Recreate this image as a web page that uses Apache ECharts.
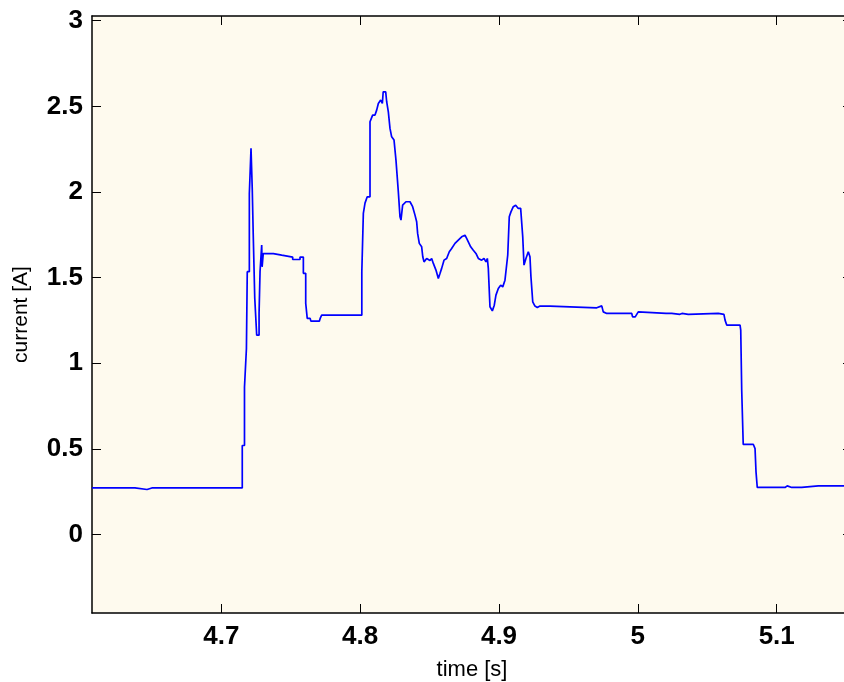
<!DOCTYPE html>
<html>
<head>
<meta charset="utf-8">
<title>current vs time</title>
<script src="https://cdn.jsdelivr.net/npm/echarts@6/dist/echarts.min.js"></script>
<style>
  html, body { margin: 0; padding: 0; background: #ffffff; }
  #chart { width: 844px; height: 682px; }
</style>
</head>
<body>
<div id="chart"></div>
<script>
// Sampled motor current trace: time in seconds, current in amperes.
const times = [
  // idle level
  4.6069,4.6103,4.6103,4.6110,4.6110,4.6153,4.6153,4.6160,4.6160,4.6378,4.6378,4.6465,4.6465,4.6500,4.6500,
  4.6506,4.6506,4.6557,4.6557,4.6563,4.6563,4.6630,4.6630,4.6636,4.6636,4.6760,4.6760,4.6766,4.6766,4.7151,
  // switch-on spike
  4.7151,4.7167,4.7167,4.7181,4.7181,4.7187,4.7187,4.7202,4.7202,4.7214,4.7214,4.7223,4.7223,4.7230,4.7230,
  4.7241,4.7241,4.7255,4.7255,4.7272,4.7272,4.7279,4.7279,4.7291,4.7291,4.7294,4.7294,4.7302,4.7302,
  // first plateau and settling
  4.7375,4.7375,4.7435,4.7435,4.7514,4.7514,4.7567,4.7567,4.7591,4.7591,4.7608,4.7608,4.7619,4.7619,4.7640,
  4.7645,4.7706,4.7712,4.7723,4.8012,4.8012,4.8023,4.8023,
  // load peak and oscillation
  4.8035,4.8051,4.8071,4.8071,4.8090,4.8107,4.8119,4.8131,4.8148,4.8160,
  4.8166,4.8184,4.8191,4.8203,4.8215,4.8227,4.8244,4.8258,4.8275,4.8287,
  4.8294,4.8306,4.8330,4.8359,4.8378,4.8395,4.8407,4.8414,4.8426,4.8443,
  4.8451,4.8460,4.8479,4.8503,4.8515,4.8527,4.8546,4.8563,4.8575,4.8587,
  4.8604,4.8623,4.8642,4.8659,4.8671,4.8683,4.8707,4.8731,4.8755,4.8767,
  4.8779,4.8796,4.8815,4.8834,4.8851,4.8875,4.8892,4.8906,4.8916,4.8923,
  4.8935,4.8952,4.8966,4.8978,4.8995,4.9012,4.9027,4.9043,4.9055,4.9063,
  4.9074,4.9086,4.9103,4.9120,4.9139,4.9156,4.9171,4.9180,4.9194,4.9211,
  4.9223,4.9230,4.9243,4.9259,4.9276,4.9295,4.9367,4.9380,
  // steady running, then switch-off
  4.9704,4.9715,4.9740,4.9751,4.9776,4.9956,4.9962,4.9981,5.0003,5.0015,
  5.0203,5.0207,5.0214,5.0218,5.0244,5.0248,5.0303,5.0307,5.0318,5.0322,
  5.0363,5.0368,5.0579,5.0587,5.0620,5.0628,5.0640,5.0736,5.0741,5.0748,
  5.0748,5.0759,5.0759,5.0832,5.0844,5.0851,5.0851,5.0860,5.0860,5.1060,
  5.1076,5.1108,5.1117,5.1180,5.1190,5.1300,5.1312,5.1384,5.1542
];

const current = [
  0.272,0.272,0.263,0.263,0.272,0.272,0.263,0.263,0.272,0.272,0.263,0.263,0.272,0.272,0.263,
  0.263,0.272,0.272,0.263,0.263,0.272,0.272,0.263,0.263,0.272,0.272,0.263,0.263,0.272,0.272,
  0.52,0.52,0.86,0.86,1.086,1.086,1.535,1.535,1.99,1.99,2.255,2.255,2.015,2.015,1.75,
  1.75,1.38,1.38,1.164,1.164,1.29,1.29,1.535,1.535,1.69,1.69,1.563,1.563,1.64,
  1.64,1.631,1.631,1.62,1.62,1.606,1.606,1.62,1.62,1.525,1.525,1.35,1.35,1.262,1.262,
  1.246,1.246,1.262,1.281,1.281,1.534,1.534,1.875,
  1.935,1.972,1.972,2.41,2.449,2.449,2.478,2.517,2.537,2.517,
  2.585,2.585,2.527,2.468,2.371,2.322,2.303,2.186,2.001,1.855,
  1.836,1.923,1.943,1.943,1.914,1.865,1.826,1.758,1.700,1.680,
  1.622,1.592,1.612,1.600,1.612,1.583,1.544,1.495,1.524,1.554,
  1.602,1.612,1.651,1.670,1.660,1.700,1.719,1.738,1.748,1.729,
  1.709,1.680,1.660,1.641,1.612,1.602,1.612,1.592,1.612,1.554,
  1.330,1.306,1.339,1.398,1.437,1.456,1.446,1.485,1.485,1.632,
  1.855,1.884,1.914,1.923,1.904,1.904,1.738,1.573,1.612,1.651,
  1.622,1.506,1.359,1.334,1.326,1.334,1.334,1.324,
  1.324,1.335,1.335,1.300,1.291,1.291,1.271,1.271,1.300,1.291,
  1.291,1.286,1.286,1.291,1.291,1.286,1.286,1.291,1.291,1.286,
  1.286,1.291,1.291,1.285,1.285,1.252,1.223,1.223,1.193,1.193,
  0.843,0.843,0.526,0.526,0.502,0.502,0.366,0.366,0.275,0.275,
  0.284,0.275,0.284,0.275,0.284,0.284,0.275,0.284,0.284
];

const xTicks = [4.7, 4.8, 4.9, 5, 5.1];
const yTicks = [0, 0.5, 1, 1.5, 2, 2.5, 3];
const xRange = [4.60688, 5.15423];
const yRange = [-0.458, 3.0275];

const trace = times.map((t, k) => [t, current[k]]);

const FONT = '"Liberation Sans", Arial, Helvetica, sans-serif';
const boxLine = { show: true, onZero: false, lineStyle: { color: '#000', width: 1.5 } };

function tickSpec(values) {
  return { show: true, inside: true, length: 9, customValues: values,
           lineStyle: { color: '#000', width: 1 } };
}

const chart = echarts.init(document.getElementById('chart'), null, { renderer: 'canvas' });

chart.setOption({
  animation: false,
  backgroundColor: '#ffffff',
  grid: {
    left: 92, top: 16, width: 760, height: 597,
    outerBoundsMode: 'none', containLabel: false,
    show: true, backgroundColor: '#fefaee', borderWidth: 0
  },
  xAxis: [
    {
      type: 'value', position: 'bottom', min: xRange[0], max: xRange[1],
      axisLine: boxLine, axisTick: tickSpec(xTicks), splitLine: { show: false },
      axisLabel: { customValues: xTicks, margin: 11, color: '#000',
                   fontFamily: FONT, fontSize: 26, fontWeight: 'bold' },
      name: 'time [s]', nameLocation: 'middle', nameGap: 46,
      nameTextStyle: { color: '#000', fontFamily: FONT, fontSize: 22 }
    },
    {
      type: 'value', position: 'top', min: xRange[0], max: xRange[1],
      axisLine: boxLine, axisTick: tickSpec(xTicks), splitLine: { show: false },
      axisLabel: { show: false }
    }
  ],
  yAxis: [
    {
      type: 'value', position: 'left', min: yRange[0], max: yRange[1],
      axisLine: boxLine, axisTick: tickSpec(yTicks), splitLine: { show: false },
      axisLabel: { customValues: yTicks, margin: 9, color: '#000',
                   fontFamily: FONT, fontSize: 26, fontWeight: 'bold' },
      name: 'current [A]', nameLocation: 'middle', nameGap: 60,
      nameTextStyle: { color: '#000', fontFamily: FONT, fontSize: 21 }
    },
    {
      type: 'value', position: 'right', min: yRange[0], max: yRange[1],
      axisLine: boxLine, axisTick: tickSpec(yTicks), splitLine: { show: false },
      axisLabel: { show: false }
    }
  ],
  series: [{
    type: 'line',
    data: trace,
    showSymbol: false,
    lineStyle: { color: '#0000ff', width: 1.7 },
    clip: true
  }]
});
</script>
</body>
</html>
